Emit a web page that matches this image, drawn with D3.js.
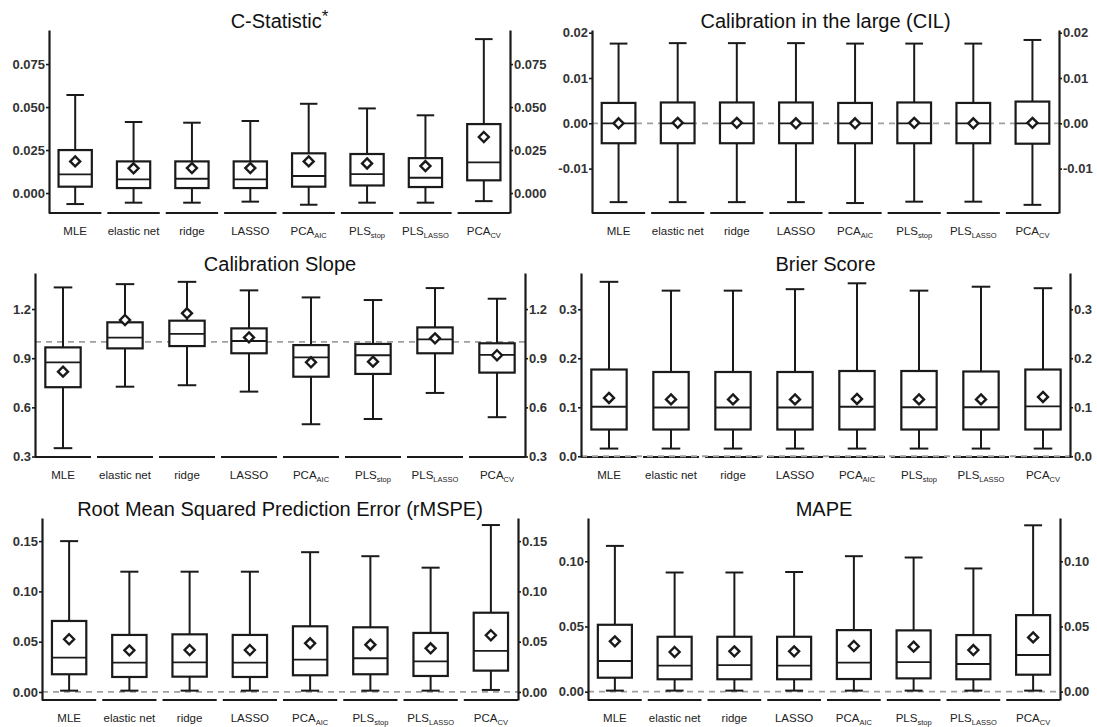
<!DOCTYPE html>
<html>
<head>
<meta charset="utf-8">
<script src="https://cdn.jsdelivr.net/npm/d3@7"></script>
<style>
body { margin: 0; background: #fff; }
svg { display: block; font-family: "Liberation Sans", Arial, sans-serif; }
</style>
</head>
<body>
<svg id="chart" width="1097" height="727"></svg>
<script>
const categories = ['MLE', 'elastic net', 'ridge', 'LASSO', 'PCA_AIC', 'PLS_stop', 'PLS_LASSO', 'PCA_CV'];

// each row: [lower whisker, Q1, median, Q3, upper whisker, mean]
const cStatistic = [
    [-0.0064, 0.0037, 0.0109, 0.0250, 0.0570, 0.0184],
    [-0.0056, 0.0029, 0.0080, 0.0184, 0.0413, 0.0144],
    [-0.0056, 0.0029, 0.0083, 0.0184, 0.0409, 0.0145],
    [-0.0050, 0.0029, 0.0080, 0.0184, 0.0419, 0.0145],
    [-0.0068, 0.0037, 0.0099, 0.0231, 0.0519, 0.0184],
    [-0.0056, 0.0044, 0.0110, 0.0227, 0.0492, 0.0172],
    [-0.0056, 0.0035, 0.0089, 0.0203, 0.0452, 0.0157],
    [-0.0047, 0.0074, 0.0178, 0.0401, 0.0895, 0.0326]
];
const cil = [
    [-0.0174, -0.0044, 0, 0.0045, 0.0176, 0.0000],
    [-0.0174, -0.0044, 0, 0.0046, 0.0177, 0.0001],
    [-0.0174, -0.0044, 0, 0.0046, 0.0177, 0.0001],
    [-0.0174, -0.0044, 0, 0.0046, 0.0177, 0.0000],
    [-0.0176, -0.0044, 0, 0.0045, 0.0176, 0.0000],
    [-0.0173, -0.0044, 0, 0.0046, 0.0176, 0.0001],
    [-0.0173, -0.0044, 0, 0.0045, 0.0176, 0.0000],
    [-0.0180, -0.0045, 0, 0.0048, 0.0184, 0.0001]
];
const calSlope = [
    [0.351, 0.723, 0.875, 0.966, 1.332, 0.818],
    [0.726, 0.960, 1.025, 1.119, 1.352, 1.133],
    [0.735, 0.974, 1.048, 1.129, 1.366, 1.174],
    [0.696, 0.930, 1.005, 1.082, 1.314, 1.027],
    [0.497, 0.787, 0.905, 0.980, 1.271, 0.875],
    [0.529, 0.804, 0.918, 0.987, 1.255, 0.879],
    [0.688, 0.930, 1.015, 1.088, 1.328, 1.021],
    [0.540, 0.812, 0.920, 0.991, 1.263, 0.918]
];
const brier = [
    [0.0157, 0.0546, 0.1010, 0.177, 0.356, 0.119],
    [0.0157, 0.0546, 0.0995, 0.172, 0.338, 0.116],
    [0.0157, 0.0546, 0.0995, 0.172, 0.338, 0.116],
    [0.0157, 0.0546, 0.0995, 0.172, 0.341, 0.116],
    [0.0157, 0.0546, 0.1010, 0.174, 0.353, 0.117],
    [0.0157, 0.0546, 0.1000, 0.174, 0.338, 0.116],
    [0.0157, 0.0546, 0.1000, 0.173, 0.346, 0.116],
    [0.0157, 0.0546, 0.1020, 0.177, 0.343, 0.121]
];
const rmspe = [
    [0.0013, 0.0176, 0.0341, 0.0706, 0.1500, 0.0524],
    [0.0013, 0.0149, 0.0291, 0.0567, 0.1196, 0.0414],
    [0.0013, 0.0152, 0.0295, 0.0573, 0.1196, 0.0417],
    [0.0013, 0.0149, 0.0291, 0.0567, 0.1196, 0.0417],
    [0.0013, 0.0166, 0.0321, 0.0653, 0.1390, 0.0484],
    [0.0013, 0.0176, 0.0335, 0.0643, 0.1350, 0.0470],
    [0.0013, 0.0159, 0.0305, 0.0587, 0.1236, 0.0434],
    [0.0020, 0.0212, 0.0408, 0.0788, 0.1660, 0.0564]
];
const mape = [
    [0.0008, 0.0107, 0.0235, 0.0513, 0.1118, 0.0386],
    [0.0008, 0.0095, 0.0199, 0.0421, 0.0914, 0.0304],
    [0.0008, 0.0095, 0.0204, 0.0421, 0.0914, 0.0309],
    [0.0008, 0.0095, 0.0199, 0.0421, 0.0918, 0.0309],
    [0.0008, 0.0097, 0.0222, 0.0472, 0.1039, 0.0350],
    [0.0008, 0.0102, 0.0227, 0.0470, 0.1029, 0.0345],
    [0.0008, 0.0095, 0.0212, 0.0434, 0.0945, 0.0319],
    [0.0008, 0.0130, 0.0281, 0.0587, 0.1276, 0.0416]
];

const cStatTicks = [0, 0.025, 0.05, 0.075];
const cilTicks = [-0.01, 0, 0.01, 0.02];
const slopeTicks = [0.3, 0.6, 0.9, 1.2];
const brierTicks = [0, 0.1, 0.2, 0.3];
const rmspeTicks = [0, 0.05, 0.1, 0.15];
const mapeTicks = [0, 0.05, 0.1];

const ink = '#1a1a1a';
const locale = d3.formatLocale({decimal: '.', thousands: ',', grouping: [3], currency: ['', ''], minus: '-'});

const panels = [
    {title: 'C-Statistic', sup: '*', data: cStatistic, ticks: cStatTicks, fmt: '.3f', ref: null,
        domain: [-0.0116, 0.0948], L: 49, R: 510, T: 30, B: 213, xr: [46, 513], titleY: 28},
    {title: 'Calibration in the large (CIL)', data: cil, ticks: cilTicks, fmt: '.2f', ref: 0,
        domain: [-0.0198, 0.0206], L: 592, R: 1059, T: 30, B: 213, xr: [589, 1062], titleY: 28},
    {title: 'Calibration Slope', data: calSlope, ticks: slopeTicks, fmt: '.1f', ref: 1,
        domain: [0.297, 1.42], L: 35, R: 525, T: 273, B: 457, xr: [32, 528], titleY: 271},
    {title: 'Brier Score', data: brier, ticks: brierTicks, fmt: '.1f', ref: 0,
        domain: [-0.0015, 0.374], L: 581, R: 1070, T: 273, B: 457, xr: [578, 1074], titleY: 271},
    {title: 'Root Mean Squared Prediction Error (rMSPE)', data: rmspe, ticks: rmspeTicks, fmt: '.2f', ref: 0,
        domain: [-0.008, 0.173], L: 42, R: 518, T: 518, B: 700, xr: [39, 521], titleY: 516},
    {title: 'MAPE', data: mape, ticks: mapeTicks, fmt: '.2f', ref: 0,
        domain: [-0.0064, 0.1332], L: 588, R: 1060, T: 518, B: 700, xr: [585, 1063], titleY: 516}
];

const svg = d3.select('#chart');

function styleAxis(g) {
    g.select('.domain').attr('stroke', ink).attr('stroke-width', 2.2);
    g.selectAll('.tick line').attr('stroke', ink).attr('stroke-width', 1.6);
    g.selectAll('.tick text')
        .attr('fill', '#333')
        .attr('font-size', 13)
        .attr('font-weight', 'bold')
        .attr('font-family', '"Liberation Sans", Arial, sans-serif');
}

function drawPanel(p) {
    const g = svg.append('g');
    const x = d3.scaleBand().domain(categories).range(p.xr);
    const y = d3.scaleLinear().domain(p.domain).range([p.B, p.T]);
    const bw = x.bandwidth();
    const boxW = bw * 0.57;
    const capW = bw * 0.3;
    const fmt = locale.format(p.fmt);

    // title
    const title = g.append('text')
        .attr('x', (p.L + p.R) / 2)
        .attr('y', p.titleY)
        .attr('text-anchor', 'middle')
        .attr('font-size', 20)
        .attr('fill', '#111')
        .text(p.title);
    if (p.sup) {
        title.append('tspan').attr('font-size', 17).attr('dy', -6).text(p.sup);
    }

    // bottom axis, one segment per category
    g.append('g').selectAll('line')
        .data(categories)
        .join('line')
        .attr('x1', d => x(d) + 3)
        .attr('x2', d => x(d) + bw - 3)
        .attr('y1', p.B)
        .attr('y2', p.B)
        .attr('stroke', ink)
        .attr('stroke-width', 2.2);

    // reference line
    if (p.ref !== null) {
        g.append('line')
            .attr('x1', p.L)
            .attr('x2', p.R)
            .attr('y1', y(p.ref))
            .attr('y2', y(p.ref))
            .attr('stroke', '#a0a0a0')
            .attr('stroke-width', 1.8)
            .attr('stroke-dasharray', '6,5');
    }

    const boxes = g.append('g').selectAll('g')
        .data(p.data.map((v, i) => ({cat: categories[i], v: v})))
        .join('g')
        .attr('transform', d => 'translate(' + (x(d.cat) + bw / 2) + ',0)');

    boxes.append('line')
        .attr('y1', d => y(d.v[0])).attr('y2', d => y(d.v[4]))
        .attr('stroke', ink).attr('stroke-width', 2);
    boxes.append('line')
        .attr('x1', -capW / 2).attr('x2', capW / 2)
        .attr('y1', d => y(d.v[4])).attr('y2', d => y(d.v[4]))
        .attr('stroke', ink).attr('stroke-width', 2);
    boxes.append('line')
        .attr('x1', -capW / 2).attr('x2', capW / 2)
        .attr('y1', d => y(d.v[0])).attr('y2', d => y(d.v[0]))
        .attr('stroke', ink).attr('stroke-width', 2);
    boxes.append('rect')
        .attr('x', -boxW / 2).attr('width', boxW)
        .attr('y', d => y(d.v[3]))
        .attr('height', d => y(d.v[1]) - y(d.v[3]))
        .attr('fill', '#fff').attr('stroke', ink).attr('stroke-width', 2.2);
    boxes.append('line')
        .attr('x1', -boxW / 2).attr('x2', boxW / 2)
        .attr('y1', d => y(d.v[2])).attr('y2', d => y(d.v[2]))
        .attr('stroke', ink).attr('stroke-width', 1.8);
    boxes.append('path')
        .attr('d', 'M0,-5L5,0L0,5L-5,0Z')
        .attr('transform', d => 'translate(0,' + y(d.v[5]) + ')')
        .attr('fill', '#fff').attr('stroke', ink).attr('stroke-width', 2.4);

    // y axes left and right
    g.append('g')
        .attr('transform', 'translate(' + p.L + ',0)')
        .call(d3.axisLeft(y).tickValues(p.ticks).tickFormat(fmt).tickSize(3).tickSizeOuter(0).tickPadding(1))
        .call(styleAxis);
    g.append('g')
        .attr('transform', 'translate(' + p.R + ',0)')
        .call(d3.axisRight(y).tickValues(p.ticks).tickFormat(fmt).tickSize(3).tickSizeOuter(0).tickPadding(1))
        .call(styleAxis);

    // category labels with subscripts
    const labels = g.append('g').selectAll('text')
        .data(categories)
        .join('text')
        .attr('x', d => x(d) + bw / 2)
        .attr('y', p.B + 22)
        .attr('text-anchor', 'middle')
        .attr('font-size', 11.5)
        .attr('fill', '#222');
    labels.each(function (d) {
        const parts = d.split('_');
        const t = d3.select(this);
        t.append('tspan').text(parts[0]);
        if (parts.length > 1) {
            t.append('tspan').attr('font-size', 7.5).attr('dy', 3).text(parts[1]);
        }
    });
}

panels.forEach(drawPanel);
</script>
</body>
</html>
